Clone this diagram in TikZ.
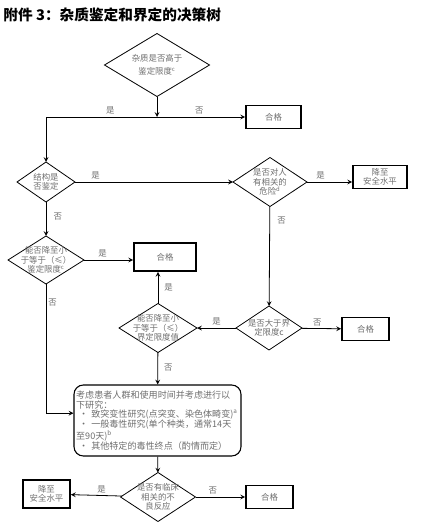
\documentclass[tikz,border=0pt]{standalone}
\usepackage{fontspec}
\setmainfont{Noto Sans CJK SC}
\usepackage{tikz}
\usetikzlibrary{arrows.meta,shapes.geometric}
\definecolor{txtgray}{HTML}{6E6E6E}
\newcommand{\sfont}{\fontsize{6.3}{6.9}\selectfont}

\begin{document}
\begin{tikzpicture}[x=0.75pt,y=-0.75pt,line width=0.6pt,
    dec/.style={diamond,draw,inner sep=0pt,outer sep=0pt},
    dlabel/.style={align=center,text=txtgray,font=\sfont,inner sep=0pt},
    okbox/.style={draw,line width=1.3pt,text=txtgray,font=\sfont,align=center,inner sep=0pt},
    yn/.style={text=txtgray,font=\sfont,inner sep=1.5pt}]
    \useasboundingbox (0,0) rectangle (421,531);

    \node[anchor=west,inner sep=0pt,font=\bfseries\fontsize{11}{13}\selectfont] (t) at (3,15) {附件 3：杂质鉴定和界定的决策树};

    \node[dec,minimum width=78.75pt,minimum height=47.25pt,
      label={[dlabel,font=\fontsize{6.3}{10}\selectfont]center:{杂质是否高于\\鉴定限度\textsuperscript{c}}}] (1) at (157,65) {};
    \node[okbox,minimum width=41.25pt,minimum height=17.25pt] (2) at (273.5,117) {合格};
    \node[dec,minimum width=43.5pt,minimum height=30pt,
      label={[dlabel]center:{结构是\\否鉴定}}] (3) at (46,182) {};
    \node[dec,minimum width=55.5pt,minimum height=36.75pt,
      label={[dlabel]center:{是否对人\\有相关的\\危险\textsuperscript{d}}}] (4) at (270,182) {};
    \node[okbox,minimum width=40.5pt,minimum height=17.25pt] (5) at (380,177) {降至\\安全水平};
    \node[dec,minimum width=57pt,minimum height=36pt,
      label={[dlabel]center:{能否降至小\\于等于（≤）\\鉴定限度\textsuperscript{c}}}] (6) at (46,260) {};
    \node[okbox,minimum width=46.5pt,minimum height=21pt] (7) at (165,257) {合格};
    \node[dec,minimum width=58.5pt,minimum height=36.75pt,
      label={[dlabel]center:{能否降至小\\于等于（≤）\\界定限度值}}] (8) at (158,328) {};
    \node[dec,minimum width=49.5pt,minimum height=33pt,
      label={[dlabel]center:{是否大于界\\定限度c}}] (9) at (269,328) {};
    \node[okbox,minimum width=35.25pt,minimum height=17.25pt] (10) at (365.5,329) {合格};
    \node[draw,rounded corners=7pt,line width=0.8pt,text=txtgray,align=left,
      text width=122pt,inner sep=1.5pt,minimum width=125.25pt,minimum height=53.25pt,
      font=\fontsize{6.8}{7.3}\selectfont] (11) at (157.5,420.5)
      {考虑患者人群和使用时间并考虑进行以\\下研究：\\
       ~·~致突变性研究(点突变、染色体畸变)\textsuperscript{a}\\
       ~·~一般毒性研究(单个种类，通常14天\\
       至90天)\textsuperscript{b}\\
       ~·~其他特定的毒性终点（酌情而定）};
    \node[dec,minimum width=56.25pt,minimum height=36.75pt,
      label={[dlabel]center:{是否有临床\\相关的不\\良反应}}] (12) at (158,497) {};
    \node[okbox,minimum width=35.25pt,minimum height=21pt] (13) at (46.5,494) {降至\\安全水平};
    \node[okbox,minimum width=35.25pt,minimum height=17.25pt] (14) at (269.5,497) {合格};

    \coordinate (j) at (157,117);

    \path[-stealth,every node/.style={yn}]
    (1) edge (j)
    (j) edge node[pos=0.48,above] {否} (2)
    (3) edge node[pos=0.13,above] {是} (4)
    (4) edge node[pos=0.3,above] {是} (4 -| 5.west)
    (3) edge node[pos=0.42,right=4pt] {否} (6)
    (6) edge node[pos=0.38,above] {是} (6 -| 7.west)
    (4) edge node[pos=0.14,right=4pt] {否} (9)
    (9) edge node[pos=0.4,above] {否} (10)
    (9) edge node[pos=0.5,above] {是} (8)
    (8) edge node[pos=0.5,right=3pt] {是} (8 |- 7.south)
    (8) edge node[pos=0.47,right=3pt] {否} (11)
    (11) edge (12)
    (12) edge node[pos=0.4,above] {是} (13)
    (12) edge node[pos=0.35,above] {否} (14);

    \draw[-stealth] (j) -| node[yn,pos=0.21,above] {是} (3);
    \draw[-stealth] (6) |- node[yn,pos=0.07,right] {否} (11.175);

\end{tikzpicture}
\end{document}
